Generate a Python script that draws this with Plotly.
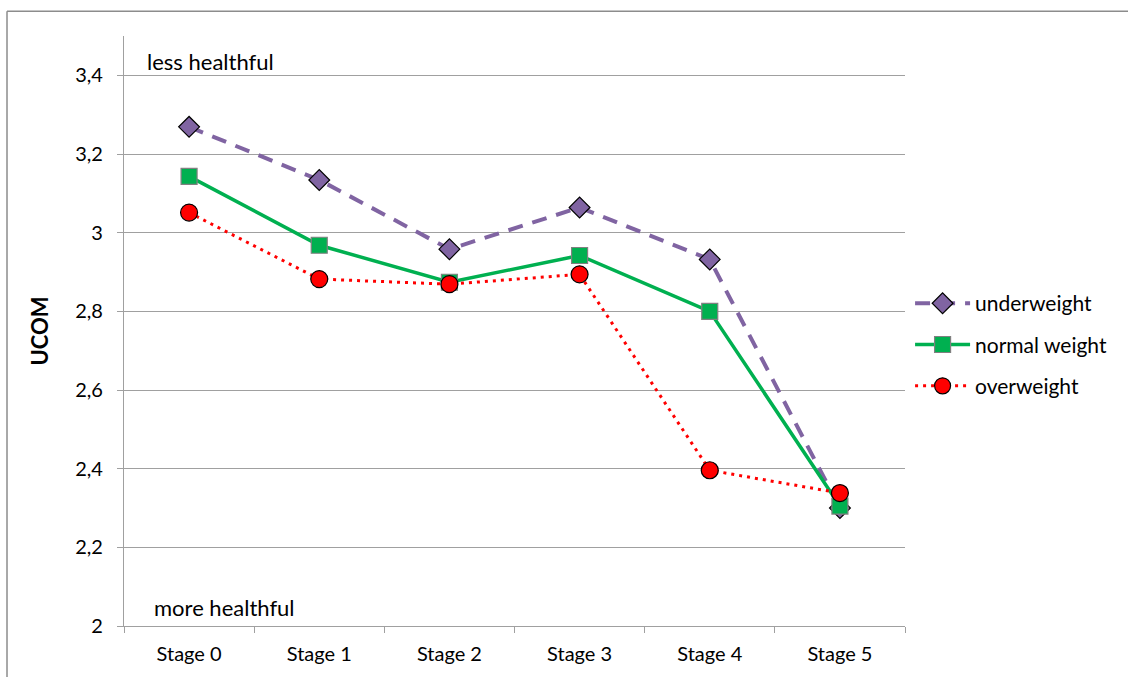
import plotly.graph_objects as go

stages = ["Stage 0", "Stage 1", "Stage 2", "Stage 3", "Stage 4", "Stage 5"]
underweight = [3.269, 3.134, 2.958, 3.064, 2.932, 2.300]
normal_weight = [3.143, 2.968, 2.874, 2.942, 2.800, 2.305]
overweight = [3.051, 2.882, 2.869, 2.894, 2.396, 2.338]

FONT = "Lato"

fig = go.Figure()
fig.add_trace(go.Scatter(
    x=stages, y=underweight, name="underweight", mode="lines+markers", legendgroup="a",
    line=dict(color="#8064A2", width=4, dash="15px,10px"),
    marker=dict(symbol="diamond", size=16, color="#8064A2", line=dict(color="black", width=1.2)),
))
fig.add_trace(go.Scatter(
    x=stages, y=normal_weight, name="normal weight", mode="lines+markers", legendgroup="b",
    line=dict(color="#00B050", width=3.5),
    marker=dict(symbol="square", size=16, color="#00B050", line=dict(color="#808080", width=1.2)),
))
fig.add_trace(go.Scatter(
    x=stages, y=overweight, name="overweight", mode="lines+markers", legendgroup="c",
    line=dict(color="#FF0000", width=3, dash="3px,5px"),
    marker=dict(symbol="circle", size=17, color="#FF0000", line=dict(color="black", width=1.2)),
))

fig.update_layout(
    width=1128, height=677,
    margin=dict(l=124, r=223, t=36, b=48),
    paper_bgcolor="white", plot_bgcolor="white",
    separators=",.",
    font=dict(family=FONT, size=19, color="black"),
    showlegend=True,
    legend=dict(x=1.0065, y=0.477, xanchor="left", yanchor="middle",
                font=dict(size=21), bgcolor="rgba(0,0,0,0)",
                tracegroupgap=11, itemwidth=55),
    xaxis=dict(
        showgrid=False, showline=True, linecolor="#A0A0A0", linewidth=1.2,
        ticks="outside", ticklen=6, tickcolor="#A0A0A0", tickson="boundaries",
        tickfont=dict(size=20), range=[-0.5, 5.5], ticklabelstandoff=10,
    ),
    yaxis=dict(
        title=dict(text="<b>UCOM</b>", font=dict(size=22), standoff=20),
        range=[2, 3.5], tickvals=[2, 2.2, 2.4, 2.6, 2.8, 3, 3.2, 3.4],
        showgrid=True, gridcolor="#A0A0A0", gridwidth=1.2,
        showline=True, linecolor="#A0A0A0", linewidth=1.2,
        ticks="outside", ticklen=6, tickcolor="#A0A0A0",
        tickfont=dict(size=20), zeroline=False, ticklabelstandoff=10,
    ),
    annotations=[
        dict(text="less healthful", xref="paper", yref="y", x=0.027, y=3.4,
             xanchor="left", yanchor="bottom", showarrow=False, font=dict(size=22), yshift=-2),
        dict(text="more healthful", xref="paper", yref="y", x=0.036, y=2.0,
             xanchor="left", yanchor="bottom", showarrow=False, font=dict(size=22), yshift=3),
    ],
    shapes=[
        dict(type="line", xref="paper", yref="paper", x0=-0.1498, x1=1.30, y0=1.042, y1=1.042,
             line=dict(color="#8C8C8C", width=1.5)),
        dict(type="line", xref="paper", yref="paper", x0=-0.1498, x1=-0.1498, y0=-0.2, y1=1.042,
             line=dict(color="#8C8C8C", width=1.5)),
    ],
)

fig.write_html("out.html", config={"displayModeBar": False},
               post_script="document.body.style.margin='0';")
